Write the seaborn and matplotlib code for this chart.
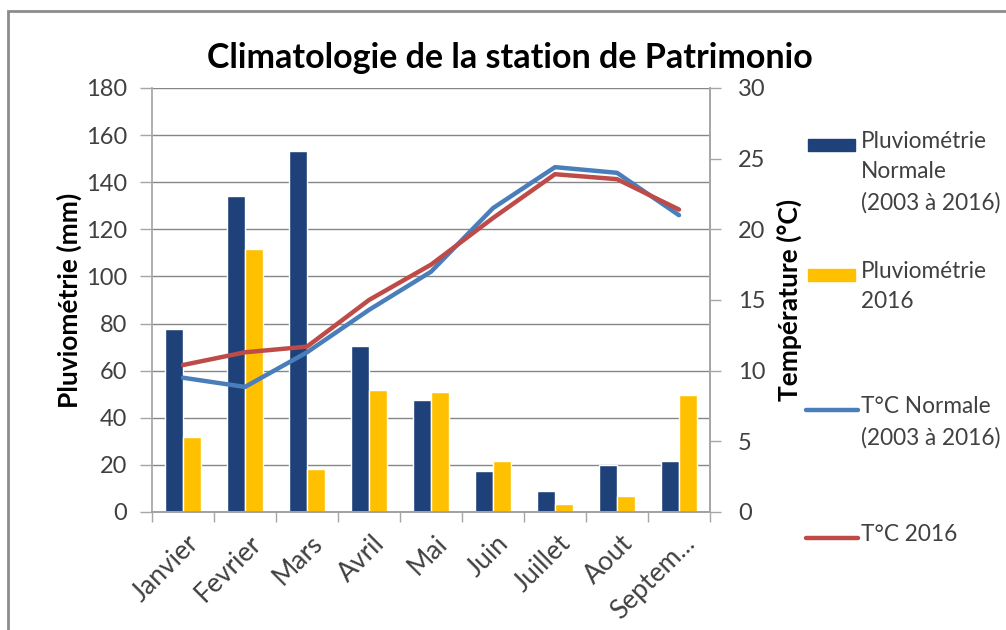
import numpy as np
import pandas as pd
import matplotlib
matplotlib.use("Agg")
import matplotlib.pyplot as plt
import matplotlib.transforms as mtransforms
import seaborn as sns
from matplotlib.patches import Rectangle
from matplotlib.lines import Line2D

# ── Data ──────────────────────────────────────────────────────────────────────
mois = ["Janvier", "Fevrier", "Mars", "Avril", "Mai", "Juin", "Juillet", "Aout", "Septem..."]
pluie_normale = [77.5, 134.3, 153.2, 70.5, 47.5, 17.3, 8.9, 20.1, 21.6]
pluie_2016 = [31.9, 111.6, 18.4, 51.8, 50.8, 21.6, 3.5, 6.8, 49.6]
temp_normale = [9.5, 8.85, 11.3, 14.3, 17.0, 21.5, 24.4, 24.0, 21.0]
temp_2016 = [10.4, 11.3, 11.7, 15.0, 17.5, 20.8, 23.9, 23.55, 21.4]

lab_pn = "Pluviométrie\nNormale\n(2003 à 2016)"
lab_p16 = "Pluviométrie\n2016"
lab_tn = "T°C Normale\n(2003 à 2016)"
lab_t16 = "T°C 2016"

# ── Theme ─────────────────────────────────────────────────────────────────────
C_NAVY = "#1F4179"
C_GOLD = "#FFC000"
C_BLUE = "#4A7EBB"
C_RED = "#BE4B48"
GRID = "#868686"
AXC = "#A6A6A6"
TXT = "#404040"

sns.set_theme(style="white")
plt.rcParams.update({
    "font.family": ["Lato", "DejaVu Sans"],
    "axes.edgecolor": AXC,
    "xtick.color": TXT,
    "ytick.color": TXT,
})

df = pd.DataFrame({
    "mois": mois * 2,
    "serie": [lab_pn] * len(mois) + [lab_p16] * len(mois),
    "valeur": pluie_normale + pluie_2016,
})

W, H = 1006, 630
fig = plt.figure(figsize=(W / 100, H / 100), dpi=100, facecolor="white")
ax = fig.add_axes([152 / W, 1 - 512 / H, 558 / W, 424 / H])

sns.barplot(data=df, x="mois", y="valeur", hue="serie",
            palette={lab_pn: C_NAVY, lab_p16: C_GOLD},
            width=0.57, saturation=1, ax=ax, legend=False, zorder=2)

ax.set_ylim(0, 180)
ax.set_yticks(np.arange(0, 181, 20))
ax.set_xlim(-0.5, len(mois) - 0.5)
ax.yaxis.grid(True, color=GRID, linewidth=1)
ax.set_axisbelow(True)
ax.set_xlabel("")
ax.set_ylabel("Pluviométrie (mm)", fontsize=19, fontweight="bold", color="black", labelpad=3)
ax.tick_params(axis="y", labelsize=17, length=9, width=1, color=AXC, direction="out", left=True, pad=9)
ax.tick_params(axis="x", which="major", labelsize=19, length=0, pad=14)
ax.set_xticks(np.arange(-0.5, len(mois)), minor=True)
ax.tick_params(axis="x", which="minor", length=7, width=1, color=AXC, direction="out", bottom=True)
shift = mtransforms.ScaledTranslation(12 / 100, -8 / 100, fig.dpi_scale_trans)
for lbl in ax.get_xticklabels():
    lbl.set_rotation(45)
    lbl.set_ha("right")
    lbl.set_va("center")
    lbl.set_rotation_mode("anchor")
    lbl.set_transform(lbl.get_transform() + shift)
ax.spines["top"].set_visible(False)
ax.spines["bottom"].set_color(GRID)

# ── Temperatures on secondary axis ────────────────────────────────────────────
ax2 = ax.twinx()
x_idx = np.arange(len(mois))
sns.lineplot(x=x_idx, y=temp_normale, color=C_BLUE, linewidth=3.2, ax=ax2, sort=False)
sns.lineplot(x=x_idx, y=temp_2016, color=C_RED, linewidth=3.2, ax=ax2, sort=False)
ax2.set_ylim(0, 30)
ax2.set_yticks(np.arange(0, 31, 5))
ax2.grid(False)
ax2.set_ylabel("Température (°C)", fontsize=19, fontweight="bold", color="black", labelpad=8)
ax2.tick_params(axis="y", labelsize=17, length=8, width=1, color=AXC, direction="out", right=True, pad=12)
ax2.spines["top"].set_visible(False)
ax2.spines["left"].set_visible(False)

# ── Title ─────────────────────────────────────────────────────────────────────
fig.text(510 / W, 1 - 58 / H, "Climatologie de la station de Patrimonio",
         ha="center", va="center", fontsize=24.5, fontweight="bold", color="black")

# ── Legend (Excel-like, handle aligned with first line) ──────────────────────
entries = [("patch", C_NAVY, lab_pn, 145), ("patch", C_GOLD, lab_p16, 275),
           ("line", C_BLUE, lab_tn, 410), ("line", C_RED, lab_t16, 538)]
for kind, col, lab, yc in entries:
    if kind == "patch":
        fig.add_artist(Rectangle((808 / W, 1 - (yc + 6) / H), 47 / W, 12 / H,
                                 transform=fig.transFigure, color=col))
    else:
        fig.add_artist(Line2D([806 / W, 858 / W], [1 - yc / H, 1 - yc / H],
                              transform=fig.transFigure, color=col, linewidth=3.2))
    fig.text(861 / W, 1 - (yc - 14) / H, lab, ha="left", va="top",
             fontsize=16.3, color=TXT, linespacing=1.55)

# ── Outer border ──────────────────────────────────────────────────────────────
fig.add_artist(Rectangle((8 / W, -0.05), 1.1, 1 - 11 / H + 0.05,
                         transform=fig.transFigure, fill=False,
                         edgecolor="#8C8C8C", linewidth=2))

fig.savefig("out.png", dpi=100, facecolor="white")
